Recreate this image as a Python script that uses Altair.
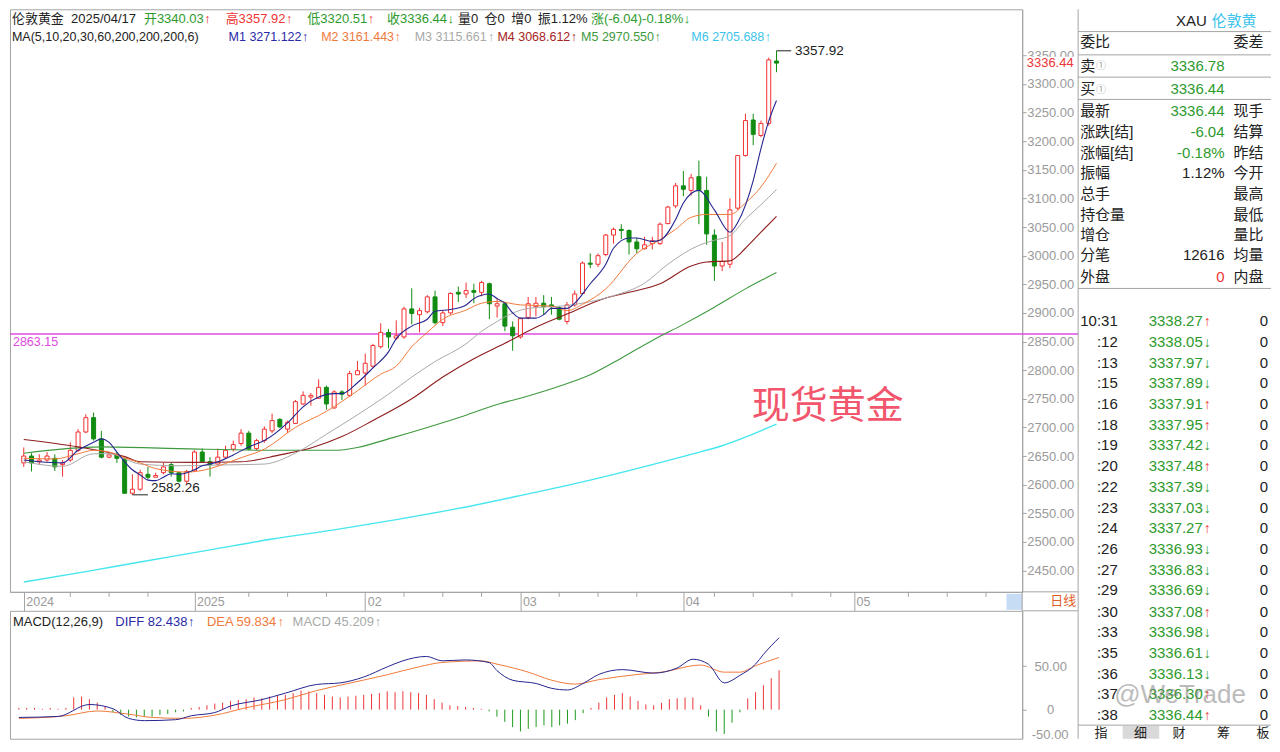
import altair as alt
import pandas as pd

FONT = "Liberation Sans, Noto Sans CJK SC, sans-serif"

# ---------------------------------------------------------------- values
opens = [2638, 2650, 2640, 2643, 2646, 2635, 2643, 2660, 2692, 2717,
         2680, 2648, 2652, 2645, 2585, 2592, 2618, 2613, 2621, 2635,
         2621, 2606, 2624, 2657, 2640, 2636, 2648, 2662, 2672, 2690,
         2663, 2677, 2694, 2714, 2697, 2707, 2741, 2753, 2751, 2770,
         2734, 2762, 2756, 2792, 2795, 2807, 2841, 2866, 2856, 2858,
         2907, 2897, 2902, 2928, 2883, 2900, 2936, 2933, 2939, 2936,
         2951, 2912, 2916, 2875, 2858, 2892, 2911, 2917, 2914, 2909,
         2885, 2914, 2934, 2987, 2985, 3002, 3036, 3046, 3044, 3024,
         3012, 3021, 3021, 3056, 3087, 3122, 3114, 3138, 3114, 3036,
         2982, 2985, 3083, 3175, 3237, 3210, 3231, 3340.03]
highs = [2665, 2655, 2653, 2657, 2653, 2643, 2674, 2697, 2723, 2726,
         2694, 2655, 2657, 2646, 2618, 2626, 2631, 2621, 2638, 2638,
         2623, 2626, 2660, 2663, 2648, 2663, 2668, 2677, 2697, 2694,
         2680, 2702, 2724, 2716, 2712, 2748, 2763, 2760, 2784, 2773,
         2765, 2765, 2799, 2816, 2829, 2846, 2882, 2872, 2887, 2911,
         2943, 2909, 2931, 2939, 2905, 2936, 2946, 2953, 2951, 2956,
         2953, 2926, 2919, 2885, 2892, 2928, 2928, 2931, 2928, 2912,
         2919, 2939, 2990, 3004, 3004, 3038, 3049, 3055, 3046, 3031,
         3033, 3033, 3058, 3087, 3127, 3148, 3143, 3166, 3138, 3046,
         3024, 3100, 3176, 3248, 3248, 3236, 3346, 3357.92]
lows = [2631, 2623, 2635, 2640, 2624, 2614, 2640, 2657, 2690, 2677,
        2646, 2646, 2638, 2584, 2582.26, 2589, 2609, 2613, 2618, 2614,
        2604, 2601, 2623, 2638, 2614, 2633, 2646, 2658, 2668, 2660,
        2660, 2673, 2690, 2699, 2690, 2706, 2739, 2738, 2750, 2731,
        2733, 2748, 2753, 2792, 2773, 2804, 2838, 2838, 2853, 2855,
        2880, 2866, 2899, 2880, 2877, 2897, 2919, 2926, 2917, 2929,
        2889, 2892, 2868, 2834, 2855, 2889, 2894, 2897, 2897, 2887,
        2880, 2911, 2933, 2978, 2980, 2999, 3021, 3029, 3002, 3004,
        3011, 3011, 3019, 3055, 3083, 3104, 3105, 3055, 3019, 2956,
        2973, 2978, 3080, 3173, 3193, 3207, 3227, 3320.51]
closes = [2650, 2638, 2643, 2650, 2631, 2638, 2660, 2692, 2717, 2680,
          2648, 2652, 2646, 2585, 2592, 2621, 2613, 2616, 2631, 2621,
          2606, 2623, 2657, 2640, 2635, 2648, 2660, 2670, 2690, 2662,
          2677, 2697, 2712, 2701, 2709, 2745, 2756, 2756, 2770, 2741,
          2762, 2758, 2794, 2799, 2812, 2843, 2866, 2858, 2860, 2907,
          2899, 2904, 2928, 2883, 2900, 2934, 2933, 2939, 2936, 2953,
          2916, 2916, 2877, 2860, 2890, 2916, 2917, 2911, 2911, 2889,
          2914, 2933, 2987, 2985, 3000, 3036, 3046, 3044, 3024, 3012,
          3019, 3026, 3055, 3085, 3122, 3116, 3136, 3114, 3038, 2982,
          2990, 3080, 3175, 3236, 3212, 3231, 3342, 3336.44]

ma1_idx = [0, 2, 5, 7, 9, 10, 11, 12, 13, 14, 15, 16, 17, 18, 19, 20, 22, 23, 24, 25,
           27, 29, 31, 34, 36, 38, 40, 41, 43, 45, 47, 48, 50, 52, 53, 55, 57, 58, 60, 61,
           62, 63, 64, 66, 67, 68, 70, 71, 73, 75, 76, 78, 79, 81, 82, 84, 85, 87, 89, 91,
           92, 94, 95, 96, 97]
ma1_val = [2643, 2640, 2638, 2660, 2674, 2680, 2674, 2657, 2640, 2626, 2617, 2608, 2607, 2613, 2619, 2618, 2626, 2633, 2636, 2640,
           2652, 2666, 2677, 2708, 2736, 2753, 2759, 2759, 2778, 2804, 2832, 2855, 2877, 2889, 2903, 2906, 2914, 2925, 2933, 2925,
           2917, 2900, 2891, 2891, 2897, 2908, 2908, 2917, 2951, 2985, 3013, 3031, 3031, 3025, 3027, 3063, 3092, 3114, 3080, 3041,
           3058, 3131, 3187, 3235, 3271.122]
ma2_idx = [0, 4, 7, 9, 11, 13, 15, 17, 21, 24, 26, 28, 31, 35, 39, 43, 46, 48, 50, 52,
           54, 57, 59, 61, 64, 68, 70, 72, 75, 79, 82, 84, 86, 88, 91, 93, 95, 97]
ma2_val = [2646, 2645, 2654, 2660, 2657, 2647, 2638, 2628, 2622, 2628, 2637, 2647, 2662, 2700, 2728, 2764, 2793, 2807, 2841, 2866,
           2889, 2905, 2917, 2920, 2914, 2912, 2904, 2915, 2942, 3004, 3028, 3046, 3067, 3072, 3072, 3092, 3120, 3161.443]
ma3_idx = [0, 5, 9, 11, 15, 20, 24, 28, 31, 35, 39, 43, 47, 50, 53, 57, 59, 61, 62, 65,
           70, 76, 80, 83, 87, 89, 91, 93, 95, 97]
ma3_val = [2640, 2632, 2654, 2654, 2636, 2633, 2634, 2635, 2636, 2655, 2688, 2722, 2758, 2788, 2815, 2846, 2868, 2885, 2893, 2908,
           2913, 2930, 2952, 2985, 3018, 3027, 3035, 3064, 3089, 3115.661]
ma4_idx = [0, 7, 13, 15, 22, 28, 33, 37, 41, 45, 50, 54, 58, 62, 66, 70, 75, 78, 82, 86,
           88, 91, 93, 95, 97]
ma4_val = [2679, 2666, 2649, 2640, 2639, 2640, 2652, 2664, 2684, 2712, 2750, 2788, 2820, 2847, 2875, 2898, 2926, 2936, 2951, 2982,
           2989, 2991, 3013, 3041, 3068.612]
ma5_idx = [0, 10, 20, 32, 40, 43, 47, 52, 56, 61, 65, 69, 73, 77, 81, 85, 89, 93, 97]
ma5_val = [2655, 2666, 2663, 2660, 2660, 2665, 2680, 2700, 2717, 2740, 2755, 2772, 2792, 2821, 2852, 2880, 2910, 2942, 2970.550]
ma6_idx = [0, 8, 15, 24, 32, 40, 48, 57, 65, 73, 81, 86, 90, 93, 97]
ma6_val = [2430, 2448, 2465, 2486, 2505, 2521, 2539, 2561, 2584, 2608, 2635, 2653, 2668, 2683, 2705.688]

diff_idx = [0, 5, 9, 12, 14, 16, 20, 22, 25, 27, 31, 34, 38, 41, 44, 47, 49, 52, 54, 57,
            60, 61, 63, 66, 68, 70, 72, 74, 77, 81, 84, 86, 88, 90, 92, 94, 95, 97]
diff_val = [-8.9, -7.8, 5.9, 1.1, -10, -12.6, -11.5, -7, -3.3, 4.1, 11.5, 18.9, 28.9, 30.7, 37.4, 49, 56, 61, 56, 57,
            54, 44.8, 33.7, 30, 24.4, 22.6, 30, 40.4, 45.9, 41.9, 47.8, 57.8, 52, 30.7, 39.3, 52.2, 63.3, 82.438]
dea_idx = [0, 6, 10, 14, 17, 21, 25, 29, 34, 38, 42, 47, 51, 54, 59, 61, 65, 68, 71, 74,
           79, 82, 87, 90, 92, 94, 97]
dea_val = [-10, -7, -1.5, -5.2, -8.9, -10, -6.3, 2.2, 11.5, 21.9, 30, 40, 49, 54.1, 55.9, 52.2, 43, 33.7, 29.3, 34.4,
           40.4, 43, 51.1, 43, 43, 50.4, 59.834]
macd_hist = [2, 2, 2, 1, 2, 1, 2, 14, 15, 12,
             8, 4, -3, -6, -8, -9, -8, -8, -6, -5,
             -3, -2, 2, 3, 5, 7, 8, 10, 11, 12,
             14, 13, 15, 16, 17, 19, 22, 21, 19, 17,
             15, 14, 15, 16, 17, 18, 19, 21, 20, 21,
             20, 19, 17, 12, 8, 5, 4, 3, 2, 1,
             -2, -8, -14, -20, -25, -22, -20, -18, -20, -18,
             -16, -12, -4, 2, 8, 14, 17, 19, 15, 10,
             6, 5, 8, 12, 13, 14, 14, 5, -8, -25,
             -28, -15, -3, 13, 20, 28, 36, 45.209]

date_tick_idx = [0, 22, 44, 64, 85, 107]
date_tick_lab = ["2024", "2025", "02", "03", "04", "05"]
week_tick_idx = [6, 11, 16, 29, 34, 39, 49, 54, 59, 69, 74, 79, 89, 94, 99, 104, 114, 119, 124]
price_ticks = list(range(2450, 3351, 50))
macd_ticks = [0, 50]
last_price = 3336.44
line_price = 2863.15

tick_times = ["10:31", ":12", ":13", ":15", ":16", ":18", ":19", ":20", ":22", ":23",
              ":24", ":26", ":27", ":29", ":30", ":33", ":35", ":36", ":37", ":38"]
tick_prices = ["3338.27", "3338.05", "3337.97", "3337.89", "3337.91", "3337.95", "3337.42", "3337.48", "3337.39", "3337.03",
               "3337.27", "3336.93", "3336.83", "3336.69", "3337.08", "3336.98", "3336.61", "3336.13", "3336.30", "3336.44"]
tick_dirs = ["↑", "↓", "↓", "↓", "↑", "↑", "↓", "↑", "↓", "↓", "↑", "↓", "↓", "↓", "↑", "↓", "↓", "↓", "↑", "↑"]
tick_vols = ["0"] * 20

# ---------------------------------------------------------------- colours / layout
BLACK = "#222222"
TG = "#2e9a2e"
TR = "#ee3535"
RED = "#f23030"
GRN = "#118c11"
NAVY = "#25258f"
NAVYT = "#2a2aa6"
ORG = "#f07a3c"
GRY = "#a9a9a9"
MRN = "#8e1d1d"
MRNT = "#a52424"
MGR = "#3f9a3f"
CYN = "#45e6ef"
CYT = "#3cc3ec"
AXC = "#a4a4a4"
LBL = "#9a9a9a"
MAG = "#e14ae1"
PINK = "#f2566c"
ZW = "\u200b"

PW, AW, RW = 1013, 56, 193
PH, STRIP, MH = 583, 19, 128
TOTAL_H = PH + STRIP + MH
XDOM = [-1.13, 128.02]
PDOM = [2412.8, 3430.4]
MDOM = [-33.3, 113.3]


def rx(x):
    if x <= 1028:
        return x * PW / 1028
    if x <= 1085:
        return PW + (x - 1028) * AW / 57
    return PW + AW + (x - 1085) * RW / 195


def ry(y):
    if y <= 601:
        return y * PH / 601
    if y <= 620:
        return PH + (y - 601)
    return PH + STRIP + (y - 620) * MH / 132


W = {c: 0.556 for c in "0123456789"}
W.update({".": .278, ",": .278, ":": .278, "/": .278, "(": .333, ")": .333, "-": .333, "%": .889, " ": .278,
          "M": .833, "A": .667, "C": .722, "D": .722, "I": .278, "F": .611, "E": .667})


def tw(s, size):
    return sum(W.get(ch, 1.0) for ch in s) * size


def header_rows(segs, y, size):
    rows = []
    for x0, txt, col, arrow, acol in segs:
        rows.append((txt, rx(x0), y, col, size))
        if arrow:
            rows.append((arrow, rx(x0) + tw(txt, size) + 0.5, y, acol, size))
    return rows


def text_layer(rows, align="left", **kw):
    df = pd.DataFrame(rows, columns=["t", "x", "y", "c", "s"])
    return alt.Chart(df).mark_text(align=align, baseline="middle", font=FONT, **kw).encode(
        x=alt.X("x:Q", scale=None), y=alt.Y("y:Q", scale=None), text="t:N",
        color=alt.Color("c:N", scale=None), size=alt.Size("s:Q", scale=None))


def rule_layer(rows, width=1):
    df = pd.DataFrame(rows, columns=["x", "x2", "y", "y2", "c"])
    return alt.Chart(df).mark_rule(strokeWidth=width).encode(
        x=alt.X("x:Q", scale=None), x2="x2:Q", y=alt.Y("y:Q", scale=None), y2="y2:Q",
        color=alt.Color("c:N", scale=None))


def rect_layer(rows, **kw):
    df = pd.DataFrame(rows, columns=["x", "x2", "y", "y2", "c"])
    return alt.Chart(df).mark_rect(**kw).encode(
        x=alt.X("x:Q", scale=None), x2="x2:Q", y=alt.Y("y:Q", scale=None), y2="y2:Q",
        color=alt.Color("c:N", scale=None))


# ---------------------------------------------------------------- price panel
xs = alt.Scale(domain=XDOM, nice=False, zero=False)
ys = alt.Scale(domain=PDOM, nice=False, zero=False)
lab_expr = " : ".join(f"datum.value == {i} ? '{l}'" for i, l in zip(date_tick_idx, date_tick_lab)) + " : ''"
x_axis = alt.Axis(values=date_tick_idx, labelExpr=lab_expr, orient="bottom", title=None, grid=False,
                  tickSize=STRIP, tickColor=AXC, domainColor=AXC, labelColor=LBL, labelFont=FONT,
                  labelFontSize=12.5, labelAlign="left", labelBaseline="middle", labelPadding=-9.5,
                  labelOffset=2, labelFlush=False, labelOverlap=False, minExtent=STRIP, maxExtent=STRIP)
y_axis = alt.Axis(orient="right", values=price_ticks, format=".2f", title=None, grid=False,
                  tickSize=4, tickColor=AXC, domainColor=AXC, labelColor=LBL, labelFont=FONT,
                  labelFontSize=13, labelAlign="center", labelBaseline="middle", labelPadding=24,
                  labelOverlap=False, labelFlush=False, zindex=0)


def EX(f="i"):
    return alt.X(f"{f}:Q", scale=xs, axis=x_axis)


def EY(f):
    return alt.Y(f"{f}:Q", scale=ys, axis=y_axis)


n = len(closes)
cdf = pd.DataFrame({"i": list(range(n)), "o": opens, "h": highs, "l": lows, "c": closes})
cdf["col"] = [RED if c >= o else GRN for o, c in zip(opens, closes)]
cdf["fil"] = ["#ffffff" if c >= o else GRN for o, c in zip(opens, closes)]

layers = []
layers.append(alt.Chart(pd.DataFrame({"p": [line_price]})).mark_rule(color=MAG, strokeWidth=1.5).encode(
    y=EY("p"), x=alt.value(0), x2=alt.value(PW + AW)))
layers.append(alt.Chart(cdf).mark_rule(strokeWidth=1).encode(
    x=EX(), y=EY("l"), y2="h:Q", color=alt.Color("col:N", scale=None)))
layers.append(alt.Chart(cdf).mark_bar(width=4, strokeWidth=1).encode(
    x=EX(), y=EY("o"), y2="c:Q", fill=alt.Fill("fil:N", scale=None), stroke=alt.Stroke("col:N", scale=None)))

for idx, val, col, sw in [(ma6_idx, ma6_val, CYN, 1.4), (ma5_idx, ma5_val, MGR, 1.1), (ma4_idx, ma4_val, MRN, 1.1),
                          (ma3_idx, ma3_val, GRY, 1), (ma2_idx, ma2_val, ORG, 1), (ma1_idx, ma1_val, NAVY, 1.1)]:
    layers.append(alt.Chart(pd.DataFrame({"i": idx, "v": val})).mark_line(
        color=col, strokeWidth=sw, interpolate="monotone").encode(x=EX(), y=EY("v")))

hi_i = highs.index(max(highs))
lo_i = lows.index(min(lows))
hi_df = pd.DataFrame({"i": [hi_i], "i2": [hi_i + 1.9], "ti": [hi_i + 2.4], "p": [max(highs)], "t": [f"{max(highs):.2f}"]})
lo_df = pd.DataFrame({"i": [lo_i], "i2": [lo_i + 2.0], "ti": [lo_i + 2.4], "p": [min(lows)], "t": [f"{min(lows):.2f}"]})
for d, base in [(hi_df, "middle"), (lo_df, "bottom")]:
    layers.append(alt.Chart(d).mark_rule(color=BLACK, strokeWidth=1).encode(x=EX("i"), x2="i2:Q", y=EY("p")))
    layers.append(alt.Chart(d).mark_text(align="left", baseline=base, font=FONT, fontSize=13.5, color=BLACK).encode(
        x=EX("ti"), y=EY("p"), text="t:N"))

layers.append(alt.Chart(pd.DataFrame({"p": [line_price], "t": [f"{line_price:.2f}"]})).mark_text(
    align="left", baseline="top", dy=2, font=FONT, fontSize=12.5, color=MAG).encode(
    x=alt.value(rx(3)), y=EY("p"), text="t:N"))
layers.append(alt.Chart(pd.DataFrame({"i": [103.6], "p": [2736], "t": ["现货黄金"]})).mark_text(
    align="center", baseline="middle", font=FONT, fontSize=38, color=PINK).encode(
    x=EX("i"), y=EY("p"), text="t:N"))

# current price tag on the axis
layers.append(alt.Chart(pd.DataFrame({"a": [last_price + 11], "b": [last_price - 11]})).mark_rect(color="white").encode(
    x=alt.value(PW + 2), x2=alt.value(PW + AW - 1), y=EY("a"), y2="b:Q"))
layers.append(alt.Chart(pd.DataFrame({"p": [last_price], "t": [f"{last_price:.2f}"]})).mark_text(
    align="center", baseline="middle", font=FONT, fontSize=13, color=TR).encode(
    x=alt.value(PW + 28), y=EY("p"), text="t:N"))

# date strip extras
layers.append(alt.Chart(pd.DataFrame({"i": week_tick_idx})).mark_rule(color=AXC).encode(
    x=EX(), y=alt.value(PH), y2=alt.value(PH + 5)))
layers.append(rect_layer([(rx(1012), PW, PH + 2, PH + STRIP - 1, "#c6dcf5")]))

# header text
line1 = [(2, "伦敦黄金", BLACK, "", BLACK),
         (62, "2025/04/17", BLACK, "", BLACK),
         (136, "开3340.03", TG, "↑", TR),
         (219, "高3357.92", TR, "↑", TR),
         (302, "低3320.51", TG, "↑", TR),
         (383, "收3336.44", TG, "↓", TG),
         (455, "量0", BLACK, "", BLACK),
         (482, "仓0", BLACK, "", BLACK),
         (509, "增0", BLACK, "", BLACK),
         (536, "振1.12%", BLACK, "", BLACK),
         (590, "涨(-6.04)-0.18%", TG, "↓", TG)]
line2 = [(2, "MA(5,10,20,30,60,200,200,200,6)", BLACK, "", BLACK),
         (222, "M1 3271.122", NAVYT, "↑", NAVYT),
         (316, "M2 3161.443", ORG, "↑", ORG),
         (411, "M3 3115.661", GRY, "↑", GRY),
         (495, "M4 3068.612", MRNT, "↑", MRNT),
         (580, "M5 2970.550", MGR, "↑", MGR),
         (692, "M6 2705.688", CYT, "↑", CYT)]
hdr = header_rows(line1, ry(10.5), 13) + header_rows(line2, ry(29), 12.5)
hdr.append(("日线", PW + 28, PH + STRIP / 2, "#e0602a", 13))

# right-hand quote panel
rp_left = [("XAU", rx(1184), ry(12), BLACK, 15)]
for lab, yy in [("委比", 34), ("卖", 58), ("买", 82), ("最新", 105), ("涨跌[结]", 127), ("涨幅[结]", 148),
                ("振幅", 169), ("总手", 191), ("持仓量", 212), ("增仓", 233), ("分笔", 254), ("外盘", 276)]:
    rp_left.append((lab, rx(1087), ry(yy), BLACK, 15))
rp_left.append(("①", rx(1103), ry(59), "#9a9a9a", 10))
rp_left.append(("①", rx(1103), ry(83), "#9a9a9a", 10))
rp_cut = [(lab, rx(1242), ry(yy), BLACK, 15) for lab, yy in
          [("委差", 34), ("现手", 105), ("结算价", 127), ("昨结算", 148), ("今开", 169), ("最高", 191),
           ("最低", 212), ("量比", 233), ("均量", 254), ("内盘", 276)]]
rp_right = [(v, rx(1233), ry(yy), c, 15) for v, yy, c in
            [("3336.78", 58, TG), ("3336.44", 82, TG), ("3336.44", 105, TG), ("-6.04", 127, TG),
             ("-0.18%", 148, TG), ("1.12%", 169, BLACK), ("12616", 254, BLACK), ("0", 276, TR)]]
tick_left = []
for k in range(len(tick_times)):
    yy = ry(321.7 + k * 21.37)
    rp_right.append((tick_times[k], rx(1125), yy, BLACK, 15))
    rp_right.append((tick_prices[k], rx(1211), yy, TG, 15))
    rp_right.append((tick_vols[k], rx(1277), yy, BLACK, 15))
    tick_left.append((tick_dirs[k], rx(1212), yy + 1, TR if tick_dirs[k] == "↑" else TG, 14))
tabs = [(t, rx(x), ry(746), BLACK, 13) for t, x in [("指", 1108), ("细", 1148), ("财", 1187), ("筹", 1232), ("板", 1272)]]

layers.append(rect_layer([(rx(1130), rx(1167), ry(739), TOTAL_H, "#d9d9d9")]))
rules = [(PW, PW, PH, PH + STRIP, AXC), (PW, PW + AW, PH, PH, AXC), (PW, PW + AW, PH + STRIP, PH + STRIP, AXC),
         (PW + AW, PW + AW, 0, TOTAL_H, AXC)]
for yy in [23, 47, 70, 93, 288, 738]:
    rules.append((PW + AW, PW + AW + RW, ry(yy), ry(yy), AXC))
layers.append(rule_layer(rules))
layers.append(text_layer(hdr + rp_left + tick_left, "left"))
layers.append(text_layer(rp_right, "right"))
layers.append(text_layer(tabs, "center"))
layers.append(text_layer(rp_cut, "left", limit=PW + AW + RW - rx(1242), ellipsis=ZW))
layers.append(text_layer([("伦敦黄金", rx(1220), ry(12), CYT, 15)], "left", limit=PW + AW + RW - rx(1220), ellipsis=ZW))
layers.append(text_layer([("@WeTrade", rx(1188), ry(707), "#7a7a7a", 26)], "center", opacity=0.5))

price = alt.layer(*layers).properties(width=PW, height=PH)

# ---------------------------------------------------------------- MACD panel
ms = alt.Scale(domain=MDOM, nice=False, zero=False)
m_axis = alt.Axis(orient="right", values=macd_ticks, labelExpr="datum.value == 0 ? '0' : format(datum.value, '.2f')",
                  title=None, grid=False, tickSize=4, tickColor=AXC, domainColor=AXC, labelColor=LBL,
                  labelFont=FONT, labelFontSize=13, labelAlign="center", labelBaseline="middle",
                  labelPadding=24, labelOverlap=False, labelFlush=False)
MX = alt.X("i:Q", scale=xs, axis=None)


def MY(f):
    return alt.Y(f"{f}:Q", scale=ms, axis=m_axis)


hdf = pd.DataFrame({"i": list(range(n)), "h": macd_hist, "z": [0] * n})
hdf["col"] = [TR if v >= 0 else "#1f9a1f" for v in macd_hist]
mlayers = [
    alt.Chart(hdf).mark_rule(strokeWidth=1).encode(x=MX, y=MY("h"), y2="z:Q", color=alt.Color("col:N", scale=None)),
    alt.Chart(pd.DataFrame({"i": dea_idx, "v": dea_val})).mark_line(color=ORG, strokeWidth=1, interpolate="monotone").encode(x=MX, y=MY("v")),
    alt.Chart(pd.DataFrame({"i": diff_idx, "v": diff_val})).mark_line(color=NAVY, strokeWidth=1, interpolate="monotone").encode(x=MX, y=MY("v")),
]
mhdr = [(3, "MACD(12,26,9)", BLACK, "", BLACK),
        (107, "DIFF 82.438", NAVYT, "↑", NAVYT),
        (200, "DEA 59.834", ORG, "↑", ORG),
        (287, "MACD 45.209", GRY, "↑", GRY)]
mrows = header_rows(mhdr, (632 - 620) * MH / 132, 13)
mlayers.append(text_layer(mrows, "left"))
mlayers.append(text_layer([("-50.00", PW + 28, (748 - 620) * MH / 132, LBL, 13)], "center"))
macd = alt.layer(*mlayers).properties(width=PW, height=MH)

chart = alt.vconcat(price, macd, spacing=STRIP, bounds="flush").properties(
    background="white", padding={"left": 0, "top": 0, "right": 0, "bottom": 0}
).configure_view(stroke=AXC, strokeWidth=1)

chart.save("out.html", embed_options={"renderer": "svg", "actions": False})
